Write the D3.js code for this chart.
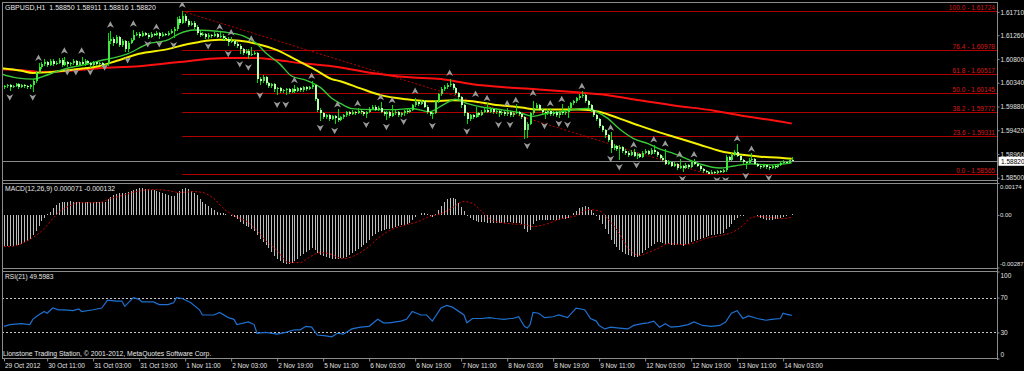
<!DOCTYPE html>
<html>
<head>
<meta charset="utf-8">
<script src="https://cdn.jsdelivr.net/npm/d3@7"></script>
<style>
html, body { margin: 0; padding: 0; background: #000; }
svg { display: block; }
</style>
</head>
<body>
<script>
// ---- price bars (H1), open of each bar = previous close ----
const firstOpen = 1.6025;
const closes = [
1.6027,1.6029,1.6025,1.6027,1.6031,1.6025,1.6029,1.6027,1.6025,1.6029,
1.6037,1.6053,1.6064,1.6070,1.6074,1.6068,1.6076,1.6070,1.6072,1.6078,
1.6068,1.6074,1.6070,1.6072,1.6076,1.6068,1.6074,1.6070,1.6076,1.6072,
1.6068,1.6074,1.6070,1.6072,1.6068,1.6070,1.6115,1.6119,1.6111,1.6123,
1.6107,1.6115,1.6099,1.6111,1.6117,1.6127,1.6129,1.6125,1.6131,1.6127,
1.6123,1.6129,1.6127,1.6131,1.6125,1.6129,1.6127,1.6131,1.6135,1.6138,
1.6158,1.6150,1.6164,1.6154,1.6146,1.6150,1.6142,1.6131,1.6127,1.6129,
1.6123,1.6127,1.6125,1.6129,1.6123,1.6125,1.6121,1.6119,1.6113,1.6115,
1.6109,1.6105,1.6099,1.6092,1.6096,1.6088,1.6090,1.6092,1.6041,1.6037,
1.6045,1.6033,1.6027,1.6031,1.6021,1.6023,1.6018,1.6019,1.6021,1.6016,
1.6021,1.6018,1.6023,1.6019,1.6025,1.6021,1.6025,1.6029,1.6002,1.5982,
1.5975,1.5967,1.5971,1.5963,1.5969,1.5965,1.5961,1.5967,1.5971,1.5977,
1.5973,1.5978,1.5975,1.5980,1.5977,1.5973,1.5978,1.5984,1.5988,1.5982,
1.5986,1.5978,1.5973,1.5977,1.5969,1.5975,1.5978,1.5971,1.5975,1.5980,
1.5977,1.5982,1.5990,1.5996,1.5992,1.5998,1.5988,1.5978,1.5973,1.5975,
1.5998,1.6012,1.6021,1.6025,1.6029,1.6031,1.6023,1.6014,1.6006,1.5990,
1.5975,1.5963,1.5971,1.5967,1.5975,1.5971,1.5978,1.5982,1.5978,1.5984,
1.5977,1.5980,1.5975,1.5978,1.5973,1.5977,1.5971,1.5975,1.5978,1.5973,
1.5967,1.5943,1.5955,1.5975,1.5986,1.5990,1.5982,1.5978,1.5975,1.5980,
1.5973,1.5977,1.5971,1.5978,1.5975,1.5978,1.5986,1.5994,1.5998,1.6004,
1.6008,1.6010,1.5998,1.5990,1.5982,1.5971,1.5963,1.5951,1.5943,1.5932,
1.5924,1.5908,1.5912,1.5906,1.5910,1.5902,1.5899,1.5895,1.5900,1.5893,
1.5897,1.5891,1.5899,1.5902,1.5897,1.5904,1.5900,1.5895,1.5889,1.5885,
1.5877,1.5881,1.5873,1.5877,1.5869,1.5873,1.5869,1.5875,1.5871,1.5881,
1.5877,1.5873,1.5867,1.5863,1.5862,1.5858,1.5862,1.5860,1.5863,1.5862,
1.5865,1.5891,1.5885,1.5895,1.5900,1.5893,1.5884,1.5881,1.5879,1.5885,
1.5887,1.5877,1.5873,1.5871,1.5875,1.5871,1.5869,1.5873,1.5871,1.5875,
1.5879,1.5881,1.5879,1.5885,1.5882
];
const highs = [
1.6030,1.6032,1.6031,1.6030,1.6034,1.6033,1.6032,1.6031,1.6029,1.6031,
1.6041,1.6057,1.6072,1.6075,1.6080,1.6077,1.6079,1.6080,1.6076,1.6082,
1.6081,1.6084,1.6077,1.6075,1.6079,1.6078,1.6077,1.6084,1.6079,1.6078,
1.6075,1.6077,1.6076,1.6075,1.6074,1.6073,1.6131,1.6135,1.6122,1.6127,
1.6125,1.6118,1.6117,1.6114,1.6121,1.6136,1.6133,1.6132,1.6134,1.6133,
1.6130,1.6132,1.6131,1.6134,1.6133,1.6132,1.6131,1.6134,1.6138,1.6142,
1.6162,1.6163,1.6172,1.6167,1.6157,1.6154,1.6153,1.6145,1.6134,1.6132,
1.6131,1.6130,1.6129,1.6132,1.6131,1.6133,1.6128,1.6124,1.6122,1.6122,
1.6117,1.6112,1.6108,1.6102,1.6100,1.6099,1.6104,1.6096,1.6094,1.6046,
1.6049,1.6047,1.6036,1.6034,1.6033,1.6026,1.6025,1.6022,1.6024,1.6023,
1.6024,1.6029,1.6026,1.6025,1.6028,1.6027,1.6028,1.6037,1.6031,1.6004,
1.5985,1.5978,1.5974,1.5973,1.5972,1.5971,1.5983,1.5970,1.5974,1.5980,
1.5979,1.5981,1.5980,1.5985,1.5982,1.5979,1.5980,1.5987,1.5991,1.5990,
1.5989,1.5996,1.5980,1.5979,1.5979,1.5990,1.5981,1.5980,1.5977,1.5982,
1.5983,1.5985,1.5993,1.6004,1.5999,1.6001,1.6000,1.5990,1.5980,1.5978,
1.6001,1.6015,1.6025,1.6029,1.6034,1.6041,1.6033,1.6025,1.6016,1.6008,
1.5992,1.5977,1.5974,1.5973,1.5988,1.5978,1.5981,1.5985,1.5994,1.5987,
1.5986,1.5983,1.5982,1.5981,1.5980,1.5986,1.5979,1.5978,1.5992,1.5980,
1.5975,1.5969,1.5958,1.5978,1.5998,1.5994,1.5992,1.5985,1.5980,1.5983,
1.5986,1.5979,1.5979,1.5980,1.5992,1.5981,1.5989,1.5997,1.6001,1.6007,
1.6012,1.6018,1.6012,1.6000,1.5992,1.5984,1.5974,1.5965,1.5953,1.5945,
1.5935,1.5938,1.5915,1.5914,1.5913,1.5912,1.5905,1.5901,1.5903,1.5905,
1.5899,1.5899,1.5902,1.5905,1.5904,1.5907,1.5914,1.5902,1.5897,1.5892,
1.5905,1.5884,1.5883,1.5880,1.5879,1.5886,1.5875,1.5878,1.5877,1.5884,
1.5886,1.5879,1.5875,1.5869,1.5866,1.5864,1.5865,1.5864,1.5865,1.5866,
1.5868,1.5895,1.5893,1.5898,1.5904,1.5916,1.5895,1.5886,1.5883,1.5888,
1.5898,1.5889,1.5879,1.5875,1.5877,1.5877,1.5873,1.5875,1.5875,1.5877,
1.5882,1.5884,1.5883,1.5887,1.58911
];
const lows = [
1.6022,1.6024,1.6018,1.6023,1.6025,1.6022,1.6023,1.6024,1.6021,1.6022,
1.6016,1.6034,1.6050,1.6061,1.6067,1.6065,1.6066,1.6067,1.6068,1.6070,
1.6065,1.6066,1.6064,1.6067,1.6069,1.6064,1.6066,1.6068,1.6067,1.6069,
1.6063,1.6066,1.6067,1.6068,1.6065,1.6063,1.6066,1.6108,1.6106,1.6108,
1.6103,1.6104,1.6094,1.6093,1.6108,1.6114,1.6124,1.6121,1.6123,1.6124,
1.6118,1.6121,1.6124,1.6125,1.6119,1.6122,1.6124,1.6125,1.6128,1.6120,
1.6135,1.6146,1.6147,1.6150,1.6142,1.6143,1.6138,1.6127,1.6123,1.6124,
1.6119,1.6118,1.6121,1.6122,1.6120,1.6121,1.6117,1.6114,1.6105,1.6110,
1.6105,1.6101,1.6090,1.6088,1.6089,1.6080,1.6085,1.6087,1.6033,1.6030,
1.6034,1.6029,1.6023,1.6024,1.6017,1.6010,1.6015,1.6015,1.6010,1.6013,
1.6014,1.6015,1.6016,1.6016,1.6017,1.6018,1.6019,1.6022,1.5998,1.5978,
1.5960,1.5963,1.5964,1.5959,1.5961,1.5954,1.5958,1.5959,1.5964,1.5968,
1.5970,1.5971,1.5972,1.5973,1.5974,1.5969,1.5966,1.5976,1.5982,1.5979,
1.5980,1.5975,1.5969,1.5962,1.5966,1.5967,1.5972,1.5968,1.5968,1.5970,
1.5974,1.5975,1.5980,1.5988,1.5989,1.5990,1.5985,1.5974,1.5969,1.5964,
1.5973,1.5995,1.6009,1.6018,1.6022,1.6026,1.6020,1.6010,1.6002,1.5986,
1.5970,1.5955,1.5960,1.5963,1.5965,1.5968,1.5969,1.5975,1.5976,1.5975,
1.5974,1.5974,1.5967,1.5972,1.5970,1.5970,1.5967,1.5968,1.5973,1.5970,
1.5963,1.5926,1.5928,1.5952,1.5972,1.5983,1.5979,1.5974,1.5964,1.5972,
1.5970,1.5970,1.5967,1.5966,1.5972,1.5972,1.5965,1.5983,1.5991,1.5995,
1.6001,1.6004,1.5994,1.5986,1.5978,1.5967,1.5959,1.5947,1.5938,1.5928,
1.5920,1.5898,1.5904,1.5902,1.5884,1.5898,1.5895,1.5891,1.5892,1.5890,
1.5886,1.5888,1.5889,1.5896,1.5894,1.5895,1.5897,1.5891,1.5886,1.5882,
1.5874,1.5874,1.5870,1.5871,1.5866,1.5867,1.5861,1.5867,1.5868,1.5869,
1.5874,1.5870,1.5864,1.5860,1.5859,1.58565,1.5857,1.5858,1.5857,1.5859,
1.5859,1.5861,1.5882,1.5883,1.5892,1.5890,1.5881,1.5877,1.5868,1.5877,
1.5883,1.5874,1.5870,1.5868,1.5869,1.5868,1.5865,1.5867,1.5868,1.5869,
1.5873,1.5877,1.5876,1.5877,1.58816
];

// ---- moving averages as (bar, price) points ----
const redMaIdx = [-1,6,13,22,33,47,61,71,78,87,95,103,114,128,140,152,163,175,186,198,210,221,233,247,258,270,274];
const redMa = [1.6060,1.6058,1.6055,1.6057,1.6062,1.6066,1.6074,1.6080,1.6082,1.6082,1.6078,1.6072,1.6066,1.6053,1.6045,1.6041,1.6031,1.6025,1.6021,1.6016,1.6010,1.6000,1.5990,1.5980,1.5969,1.5959,1.5955];
const yellowMaIdx = [-1,6,10,17,25,33,39,47,57,64,68,75,82,88,95,101,108,114,117,124,131,140,149,156,163,170,180,186,193,200,207,214,221,228,235,242,249,256,263,270,274];
const yellowMa = [1.6062,1.6057,1.6053,1.6055,1.6060,1.6066,1.6076,1.6090,1.6099,1.6109,1.6113,1.6117,1.6115,1.6109,1.6097,1.6080,1.6060,1.6041,1.6037,1.6023,1.6010,1.6002,1.5998,1.6000,1.5998,1.5992,1.5986,1.5982,1.5982,1.5982,1.5978,1.5965,1.5951,1.5938,1.5926,1.5914,1.5902,1.5895,1.5891,1.5889,1.5887];
const greenMaIdx = [-1,5,10,14,18,22,29,33,38,43,50,57,61,66,71,78,83,88,91,96,100,105,110,114,117,121,128,135,142,148,153,157,161,167,173,180,184,189,193,198,203,206,210,214,219,224,228,233,242,249,254,260,266,274];
const greenMa = [1.6051,1.6043,1.6041,1.6047,1.6055,1.6062,1.6070,1.6076,1.6082,1.6090,1.6109,1.6117,1.6129,1.6136,1.6135,1.6131,1.6125,1.6109,1.6092,1.6070,1.6047,1.6039,1.6025,1.6004,1.5994,1.5984,1.5982,1.5982,1.5984,1.5978,1.5992,1.6002,1.5994,1.5986,1.5982,1.5975,1.5969,1.5975,1.5977,1.5982,1.5984,1.5978,1.5965,1.5945,1.5926,1.5916,1.5906,1.5897,1.5877,1.5869,1.5873,1.5877,1.5875,1.5879];

// ---- fractal arrows (bar, price of the arrow) ----
const upFractalIdx = [12,21,27,37,45,53,62,75,79,86,101,107,116,123,131,135,143,155,164,168,175,178,184,190,194,201,211,219,226,230,235,240,255,260];
const upFractal = [1.6082,1.6096,1.6096,1.6146,1.6148,1.6142,1.6185,1.6142,1.6131,1.6119,1.6039,1.6047,1.5992,1.5994,1.6006,1.6000,1.6018,1.6053,1.6012,1.6004,1.5994,1.6000,1.6014,1.5994,1.6002,1.6027,1.5947,1.5914,1.5924,1.5916,1.5895,1.5895,1.5926,1.5906];
const downFractalIdx = [2,10,22,25,30,35,43,50,54,59,71,78,82,85,89,95,98,110,115,126,133,139,149,161,172,176,182,188,193,196,211,214,220,236,248,251,258,266];
const downFractal = [1.6006,1.6006,1.6055,1.6055,1.6055,1.6064,1.6078,1.6109,1.6109,1.6107,1.6105,1.6090,1.6070,1.6064,1.6010,1.5992,1.5992,1.5947,1.5941,1.5953,1.5949,1.5959,1.5951,1.5940,1.5953,1.5953,1.5912,1.5951,1.5955,1.5953,1.5887,1.5871,1.5875,1.5848,1.5846,1.5846,1.5854,1.5850];

// ---- Fibonacci retracement ----
const fibLevels = [100.0, 76.4, 61.8, 50.0, 38.2, 23.6, 0.0];
const fibPrices = [1.61724, 1.60978, 1.60517, 1.60145, 1.59772, 1.59311, 1.58565];
const fibAnchorIdx = [62, 245];
const fibAnchorPrice = [1.61724, 1.58565];

// ---- MACD(12,26,9) ----
const macdMain = [
-0.00168,-0.00170,-0.00168,-0.00168,-0.00165,-0.00162,-0.00157,-0.00146,-0.00140,-0.00129,
-0.00108,-0.00086,-0.00058,-0.00031,-0.00015,0.00007,0.00018,0.00040,0.00056,0.00067,
0.00073,0.00071,0.00073,0.00076,0.00073,0.00071,0.00073,0.00071,0.00069,0.00071,
0.00073,0.00071,0.00071,0.00073,0.00071,0.00073,0.00089,0.00100,0.00111,0.00116,
0.00122,0.00122,0.00119,0.00127,0.00133,0.00138,0.00141,0.00144,0.00144,0.00141,
0.00141,0.00138,0.00135,0.00133,0.00127,0.00122,0.00116,0.00111,0.00105,0.00105,
0.00122,0.00133,0.00141,0.00144,0.00141,0.00133,0.00122,0.00108,0.00089,0.00073,
0.00062,0.00051,0.00040,0.00026,0.00018,0.00013,0.00010,0.00007,0.00002,-0.00007,
-0.00012,-0.00020,-0.00037,-0.00048,-0.00058,-0.00067,-0.00075,-0.00086,-0.00108,-0.00129,
-0.00146,-0.00162,-0.00179,-0.00200,-0.00222,-0.00239,-0.00250,-0.00260,-0.00266,-0.00266,
-0.00260,-0.00250,-0.00239,-0.00222,-0.00211,-0.00200,-0.00190,-0.00179,-0.00190,-0.00206,
-0.00217,-0.00222,-0.00228,-0.00233,-0.00239,-0.00239,-0.00239,-0.00236,-0.00233,-0.00228,
-0.00217,-0.00206,-0.00195,-0.00184,-0.00173,-0.00162,-0.00151,-0.00135,-0.00113,-0.00102,
-0.00091,-0.00086,-0.00080,-0.00075,-0.00075,-0.00069,-0.00064,-0.00058,-0.00053,-0.00053,
-0.00048,-0.00042,-0.00026,-0.00009,0.00002,0.00010,0.00013,0.00004,-0.00004,-0.00009,
0.00007,0.00029,0.00051,0.00073,0.00084,0.00094,0.00094,0.00084,0.00067,0.00045,
0.00023,-0.00004,-0.00017,-0.00026,-0.00031,-0.00037,-0.00037,-0.00039,-0.00042,-0.00042,
-0.00045,-0.00042,-0.00045,-0.00042,-0.00042,-0.00039,-0.00037,-0.00042,-0.00045,-0.00042,
-0.00048,-0.00075,-0.00091,-0.00080,-0.00048,-0.00031,-0.00026,-0.00026,-0.00028,-0.00026,
-0.00026,-0.00026,-0.00026,-0.00026,-0.00023,-0.00020,-0.00015,0.00002,0.00013,0.00023,
0.00037,0.00045,0.00051,0.00045,0.00029,0.00013,-0.00004,-0.00026,-0.00048,-0.00075,
-0.00102,-0.00135,-0.00157,-0.00173,-0.00190,-0.00200,-0.00211,-0.00219,-0.00225,-0.00228,
-0.00228,-0.00222,-0.00206,-0.00190,-0.00179,-0.00168,-0.00157,-0.00146,-0.00146,-0.00151,
-0.00157,-0.00157,-0.00162,-0.00162,-0.00165,-0.00165,-0.00168,-0.00162,-0.00157,-0.00146,
-0.00140,-0.00135,-0.00129,-0.00124,-0.00118,-0.00113,-0.00110,-0.00108,-0.00105,-0.00102,
-0.00097,-0.00075,-0.00064,-0.00048,-0.00026,-0.00015,-0.00007,-0.00004,-0.00001,-0.00001,
0.00002,0.00002,-0.00004,-0.00015,-0.00020,-0.00026,-0.00028,-0.00026,-0.00023,-0.00020,
-0.00015,-0.00009,-0.00004,0.00002,0.000071
];
const signalIdx = [0,2,6,10,14,17,19,23,26,33,37,41,46,52,57,61,66,69,73,76,80,85,88,91,95,99,103,106,110,113,118,121,126,130,134,139,144,148,152,156,160,163,167,170,176,181,184,188,194,199,203,207,210,214,217,221,224,228,231,236,239,244,249,253,257,260,263,267,271,274];
const signal = [-0.00173,-0.00173,-0.00157,-0.00124,-0.00075,-0.00020,0.00013,0.00051,0.00067,0.00067,0.00089,0.00105,0.00127,0.00138,0.00133,0.00122,0.00127,0.00122,0.00089,0.00040,-0.00004,-0.00042,-0.00086,-0.00140,-0.00195,-0.00260,-0.00260,-0.00233,-0.00206,-0.00211,-0.00239,-0.00228,-0.00184,-0.00129,-0.00086,-0.00058,-0.00037,-0.00009,0.00007,0.00040,0.00073,0.00062,0.00007,-0.00031,-0.00048,-0.00053,-0.00064,-0.00053,-0.00020,-0.00004,0.00029,0.00023,-0.00020,-0.00102,-0.00179,-0.00222,-0.00206,-0.00179,-0.00157,-0.00162,-0.00157,-0.00129,-0.00113,-0.00097,-0.00058,-0.00015,-0.00009,-0.00015,-0.00020,-0.000132];

// ---- RSI(21) ----
const rsiIdx = [0,2,6,9,10,12,14,15,17,19,21,24,26,27,31,34,36,39,41,42,45,47,48,52,54,57,59,60,62,65,68,69,73,75,78,80,81,85,87,88,91,95,98,101,103,105,107,109,112,114,116,118,121,124,127,130,132,134,138,140,142,145,147,149,152,154,156,160,161,163,166,169,171,174,176,177,179,181,182,183,184,186,188,191,193,196,199,202,204,206,207,209,211,214,217,219,222,224,226,228,230,232,235,238,240,243,246,249,251,253,255,257,259,262,265,267,270,271,272,274];
const rsi = [37,39,40,39,45,50,54,52,58,56,56,55,57,54,56,58,67,66,66,60,70,68,65,65,62,62,64,70,69,64,56,50,50,53,47,45,39,42,39,29,30,28,30,33,33,37,36,27,26,25,29,28,34,36,37,45,41,41,43,45,54,50,50,43,58,61,59,50,41,46,46,47,46,45,46,46,48,37,35,39,53,52,47,48,50,47,58,56,46,43,38,34,36,35,34,38,40,41,43,36,40,36,37,39,42,38,37,38,42,52,55,46,49,46,44,45,46,52,51,49.6];

// ---- axes ----
const priceTicks = [1.61710, 1.61260, 1.60800, 1.60340, 1.59880, 1.59420, 1.58960, 1.58500];
const macdTicks = [0.00174, 0, -0.00287];
const macdTickLabels = ["0.00174", "0.00", "-0.00287"];
const rsiTicks = [100, 70, 30, 0];
const timeIdx = [0,15,31,47,63,79,95,111,127,143,159,175,191,207,223,239,255,271];
const timeLabels = ["29 Oct 2012","30 Oct 11:00","31 Oct 03:00","31 Oct 19:00","1 Nov 11:00","2 Nov 03:00","2 Nov 19:00","5 Nov 11:00","6 Nov 03:00","6 Nov 19:00","7 Nov 11:00","8 Nov 03:00","8 Nov 19:00","9 Nov 11:00","12 Nov 03:00","12 Nov 19:00","13 Nov 11:00","14 Nov 03:00"];

const FONT = "'Liberation Sans', Arial, sans-serif";
const W = 1024, H = 371;
const L = 2, R = 997;
const mainTop = 2, mainBottom = 180;
const macdTop = 183, macdBottom = 268;
const rsiTop = 271.5, rsiBottom = 358.5;

const svg = d3.select("body").append("svg")
  .attr("width", W).attr("height", H)
  .style("font-family", FONT);
svg.append("rect").attr("width", W).attr("height", H).attr("fill", "#000");

const x = d3.scaleLinear().domain([0, closes.length - 1]).range([4, 4 + (closes.length - 1) * 2.875]);
const y = d3.scaleLinear().domain([1.58458, 1.61902]).range([mainBottom, mainTop]);
const yMacd = d3.scaleLinear().domain([-0.00287, 0.00174]).range([macdBottom - 0.5, macdTop]);
const yRsi = d3.scaleLinear().domain([0, 100]).range([rsiBottom, rsiTop]);

const defs = svg.append("defs");
function clip(id, top, bottom) {
  defs.append("clipPath").attr("id", id).append("rect")
    .attr("x", L).attr("y", top).attr("width", R - L).attr("height", bottom - top);
}
clip("cMain", mainTop, mainBottom);
clip("cMacd", macdTop, macdBottom);
clip("cRsi", rsiTop, rsiBottom);

// ================= main panel =================
const gMain = svg.append("g").attr("clip-path", "url(#cMain)");

// fibonacci levels
const fibStartX = x(fibAnchorIdx[0]);
gMain.selectAll(".fib").data(fibPrices).enter().append("line")
  .attr("x1", fibStartX).attr("x2", R)
  .attr("y1", d => Math.round(y(d)) + 0.5).attr("y2", d => Math.round(y(d)) + 0.5)
  .attr("stroke", "#b00000").attr("stroke-width", 1);
gMain.append("line")
  .attr("x1", x(fibAnchorIdx[0])).attr("y1", y(fibAnchorPrice[0]))
  .attr("x2", x(fibAnchorIdx[1])).attr("y2", y(fibAnchorPrice[1]))
  .attr("stroke", "#c00000").attr("stroke-width", 1).attr("stroke-dasharray", "2,2");
gMain.selectAll(".fibt").data(fibPrices).enter().append("text")
  .attr("x", 995).attr("y", d => Math.round(y(d)) - 1)
  .attr("text-anchor", "end").attr("font-size", 6.6).attr("fill", "#d81818")
  .text((d, i) => fibLevels[i].toFixed(1) + " - " + d.toFixed(5));

// current price line
const lastClose = closes[closes.length - 1];
gMain.append("line")
  .attr("x1", L).attr("x2", R)
  .attr("y1", Math.round(y(lastClose)) + 0.5).attr("y2", Math.round(y(lastClose)) + 0.5)
  .attr("stroke", "#8a8a8a").attr("stroke-width", 1);

// moving averages
const maLine = d3.line().x(d => x(d[0])).y(d => y(d[1])).curve(d3.curveMonotoneX);
gMain.append("path").datum(d3.zip(redMaIdx, redMa)).attr("d", maLine)
  .attr("fill", "none").attr("stroke", "#ff1010").attr("stroke-width", 2);
gMain.append("path").datum(d3.zip(yellowMaIdx, yellowMa)).attr("d", maLine)
  .attr("fill", "none").attr("stroke", "#f4f000").attr("stroke-width", 2);
gMain.append("path").datum(d3.zip(greenMaIdx, greenMa)).attr("d", maLine)
  .attr("fill", "none").attr("stroke", "#3ac83a").attr("stroke-width", 1.4);

// candles
const bars = closes.map((c, i) => ({
  i: i, o: i ? closes[i - 1] : firstOpen, c: c, h: highs[i], l: lows[i]
}));
const gBars = gMain.append("g").attr("shape-rendering", "crispEdges");
gBars.selectAll(".wick").data(bars).enter().append("line")
  .attr("x1", d => Math.round(x(d.i)) + 0.5).attr("x2", d => Math.round(x(d.i)) + 0.5)
  .attr("y1", d => y(d.h)).attr("y2", d => y(d.l))
  .attr("stroke", "#00e000").attr("stroke-width", 1);
gBars.selectAll(".body").data(bars).enter().append("rect")
  .attr("x", d => Math.round(x(d.i)) - 0.5)
  .attr("width", 2)
  .attr("y", d => y(Math.max(d.o, d.c)))
  .attr("height", d => Math.max(1, Math.abs(y(d.o) - y(d.c))))
  .attr("fill", d => d.c >= d.o ? "#3ee83e" : "#b8ffb0");

// fractals
const upShape = "M0,-3.5L3.5,3L0,1.2L-3.5,3Z";
const downShape = "M0,3.5L3.5,-3L0,-1.2L-3.5,-3Z";
gMain.selectAll(".fu").data(d3.zip(upFractalIdx, upFractal)).enter().append("path")
  .attr("d", upShape).attr("transform", d => `translate(${x(d[0])},${y(d[1])})`)
  .attr("fill", "#9a9a9a");
gMain.selectAll(".fd").data(d3.zip(downFractalIdx, downFractal)).enter().append("path")
  .attr("d", downShape).attr("transform", d => `translate(${x(d[0])},${y(d[1])})`)
  .attr("fill", "#9a9a9a");

svg.append("text").attr("x", 5).attr("y", 9.5)
  .attr("font-size", 7).attr("fill", "#e8e8e8").style("white-space", "pre")
  .text("GBPUSD,H1  1.58850 1.58911 1.58816 1.58820");

// ================= MACD panel =================
const gMacd = svg.append("g").attr("clip-path", "url(#cMacd)");
gMacd.append("g").attr("shape-rendering", "crispEdges")
  .selectAll("line").data(macdMain).enter().append("line")
  .attr("x1", (d, i) => Math.round(x(i)) + 0.5).attr("x2", (d, i) => Math.round(x(i)) + 0.5)
  .attr("y1", yMacd(0)).attr("y2", d => yMacd(d))
  .attr("stroke", "#bdbdbd").attr("stroke-width", 1);
gMacd.append("path").datum(d3.zip(signalIdx, signal))
  .attr("d", d3.line().x(d => x(d[0])).y(d => yMacd(d[1])).curve(d3.curveMonotoneX))
  .attr("fill", "none").attr("stroke", "#d00000").attr("stroke-width", 1)
  .attr("stroke-dasharray", "2,2");
svg.append("text").attr("x", 5).attr("y", 191)
  .attr("font-size", 6.8).attr("fill", "#e8e8e8")
  .text("MACD(12,26,9) 0.000071 -0.000132");

// ================= RSI panel =================
const gRsi = svg.append("g").attr("clip-path", "url(#cRsi)");
gRsi.selectAll(".lvl").data([70, 30]).enter().append("line")
  .attr("x1", L).attr("x2", R)
  .attr("y1", d => Math.round(yRsi(d)) + 0.5).attr("y2", d => Math.round(yRsi(d)) + 0.5)
  .attr("stroke", "#c8c8c8").attr("stroke-width", 1).attr("stroke-dasharray", "2,2");
gRsi.append("path").datum(d3.zip(rsiIdx, rsi))
  .attr("d", d3.line().x(d => x(d[0])).y(d => yRsi(d[1])))
  .attr("fill", "none").attr("stroke", "#1f70d0").attr("stroke-width", 1.2);
svg.append("text").attr("x", 5).attr("y", 279)
  .attr("font-size", 6.6).attr("fill", "#e8e8e8").text("RSI(21) 49.5983");
svg.append("text").attr("x", 3).attr("y", 355.5)
  .attr("font-size", 6.8).attr("fill", "#e8e8e8")
  .text("Lionstone Trading Station, \u00a9 2001-2012, MetaQuotes Software Corp.");

// ================= frames =================
const frame = svg.append("g").attr("stroke", "#8c8c8c").attr("stroke-width", 1)
  .attr("shape-rendering", "crispEdges");
[mainTop, mainBottom, macdTop, macdBottom, rsiTop, rsiBottom].forEach(v => {
  frame.append("line").attr("x1", L).attr("x2", R).attr("y1", Math.floor(v) + 0.5).attr("y2", Math.floor(v) + 0.5);
});
frame.append("line").attr("x1", L + 0.5).attr("x2", L + 0.5).attr("y1", mainTop).attr("y2", rsiBottom);
frame.append("line").attr("x1", R + 0.5).attr("x2", R + 0.5).attr("y1", mainTop).attr("y2", rsiBottom + 1);

// ================= axes =================
function styleAxis(g, size) {
  g.attr("font-family", FONT).attr("font-size", size || 6.5);
  g.select(".domain").remove();
  g.selectAll(".tick line").attr("stroke", "#8c8c8c");
  g.selectAll(".tick text").attr("fill", "#e0e0e0");
}

const gPrice = svg.append("g").attr("transform", `translate(${R + 0.5},0)`)
  .call(d3.axisRight(y).tickValues(priceTicks).tickFormat(d3.format(".5f")).tickSize(2).tickPadding(1));
styleAxis(gPrice);

// current price tag
const tagY = y(lastClose);
svg.append("rect").attr("x", 998.5).attr("y", tagY - 4.5).attr("width", 26).attr("height", 9)
  .attr("fill", "#fff");
svg.append("text").attr("x", 1001).attr("y", tagY + 2.4)
  .attr("font-size", 6.5).attr("fill", "#000").text(d3.format(".5f")(lastClose));

const gMacdAxis = svg.append("g").attr("transform", `translate(${R + 0.5},0)`)
  .call(d3.axisRight(yMacd).tickValues(macdTicks).tickFormat((d, i) => macdTickLabels[i]).tickSize(2).tickPadding(0.5));
styleAxis(gMacdAxis, 6);
gMacdAxis.selectAll(".tick text").attr("dy", (d, i) => i === 0 ? "0.9em" : i === 2 ? "-0.3em" : "0.32em");

const gRsiAxis = svg.append("g").attr("transform", `translate(${R + 0.5},0)`)
  .call(d3.axisRight(yRsi).tickValues(rsiTicks).tickSize(2).tickPadding(1));
styleAxis(gRsiAxis);
gRsiAxis.selectAll(".tick text").attr("dy", d => d === 100 ? "0.85em" : d === 0 ? "-0.35em" : "0.32em");

const gTime = svg.append("g").attr("transform", `translate(0,${rsiBottom})`)
  .call(d3.axisBottom(x).tickValues(timeIdx).tickFormat((d, i) => timeLabels[i]).tickSize(3).tickPadding(1.5));
styleAxis(gTime);
gTime.selectAll(".tick text").attr("text-anchor", "start").attr("x", 0.5);
</script>
</body>
</html>
